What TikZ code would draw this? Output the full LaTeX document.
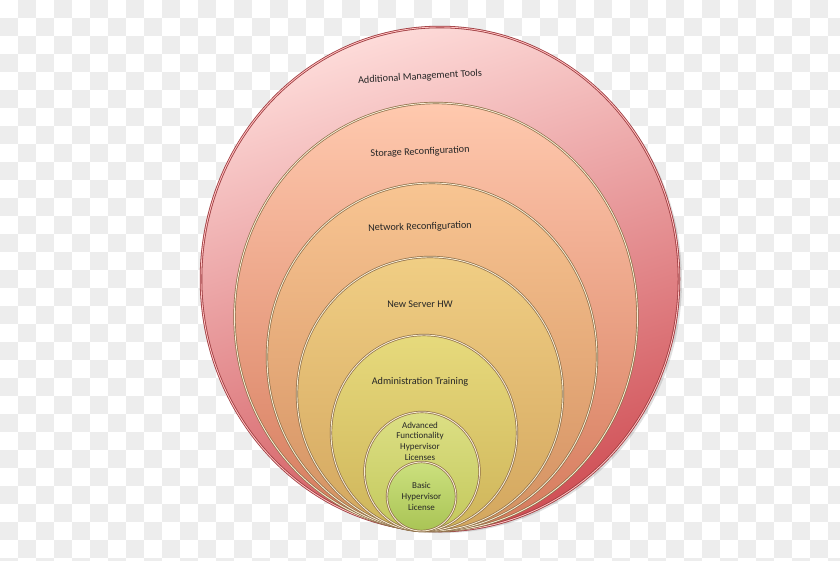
\documentclass[tikz,border=0pt]{standalone}
\usepackage{fontspec}
\setmainfont{Carlito}
\usepackage{xcolor}
\usepackage{tikz}
\usetikzlibrary{positioning,shapes.geometric,shadows}
\definecolor{chk}{HTML}{EDEDED}
\definecolor{rimred}{HTML}{9C3A3E}
\definecolor{rimtan}{HTML}{8E6E48}
\definecolor{rimlite}{HTML}{F6EBD2}
\definecolor{amtA}{HTML}{FDDAD8}\definecolor{amtB}{HTML}{F08888}\definecolor{amtC}{HTML}{D05056}
\definecolor{stoA}{HTML}{FFC9AE}\definecolor{stoB}{HTML}{F2A583}\definecolor{stoC}{HTML}{D57A5C}
\definecolor{netA}{HTML}{F8C592}\definecolor{netB}{HTML}{EBAE78}\definecolor{netC}{HTML}{D39061}
\definecolor{srvA}{HTML}{F0CE84}\definecolor{srvB}{HTML}{E4BE72}\definecolor{srvC}{HTML}{D3A65E}
\definecolor{admA}{HTML}{E6DA7C}\definecolor{admB}{HTML}{DCCB6C}\definecolor{admC}{HTML}{CFB45A}
\definecolor{advA}{HTML}{DCDF84}\definecolor{advB}{HTML}{D0D66E}\definecolor{advC}{HTML}{C3C85C}
\definecolor{basA}{HTML}{CCE07E}\definecolor{basB}{HTML}{BED66A}\definecolor{basC}{HTML}{A9C455}
\tikzset{
  ring/.style={ellipse,inner sep=0pt,outer sep=0pt,shading angle=30,
    draw=rimtan,double=rimlite,line width=.7pt,double distance=.9pt},
  lbl/.style={align=center,inner sep=0pt,text=black!85,
    font=\fontsize{10.2}{12}\selectfont},
  sml/.style={align=center,inner sep=0pt,text=black!85,
    font=\fontsize{9}{10.7}\selectfont},
}

\begin{document}
\begin{tikzpicture}[x=1pt,y=-1pt]
  \useasboundingbox (0,0) rectangle (840,560);
  % checker background
  \begin{scope}
    \clip (0,0) rectangle (840,560);
    \foreach \i in {0,...,23}
      \foreach \j in {0,...,15} {
        \fill[chk] (\i*36+18,\j*36) rectangle +(18,18);
        \fill[chk] (\i*36,\j*36+18) rectangle +(18,18);
      }
  \end{scope}
  % rings, outside in
  \node[ring,draw=rimred,double=red!25,line width=.8pt,minimum width=478pt,minimum height=504pt,
    top color=amtA,middle color=amtB,bottom color=amtC,shading angle=18,
    drop shadow={shadow xshift=3pt,shadow yshift=-2pt,opacity=.25}] (e1) at (440,279) {};
  \node[ring,minimum width=403pt,minimum height=428pt,
    top color=stoA,middle color=stoB,bottom color=stoC] (e2) at (436,317) {};
  \node[ring,minimum width=330pt,minimum height=348pt,
    top color=netA,middle color=netB,bottom color=netC] (e3) at (432,357) {};
  \node[ring,minimum width=266pt,minimum height=274pt,
    top color=srvA,middle color=srvB,bottom color=srvC] (e4) at (430,394) {};
  \node[ring,minimum width=186pt,minimum height=196pt,
    top color=admA,middle color=admB,bottom color=admC] (e5) at (424,433) {};
  \node[ring,minimum width=115pt,minimum height=119pt,
    top color=advA,middle color=advB,bottom color=advC] (e6) at (422,471.5) {};
  \node[ring,minimum width=69pt,minimum height=69pt,
    top color=basA,middle color=basB,bottom color=basC] (e7) at (421.5,496.5) {};
  % labels
  \node[lbl,rotate=3.5] (tamt) at ([xshift=-20pt,yshift=-50pt]e1.north) {Additional Management Tools};
  \node[lbl,rotate=2.5] (tsto) at ([xshift=-16pt,yshift=-49pt]e2.north) {Storage Reconfiguration};
  \node[lbl,rotate=1.5] (tnet) at ([xshift=-12pt,yshift=-44pt]e3.north) {Network Reconfiguration};
  \node[lbl] (tsrv) at ([xshift=-10pt,yshift=-47pt]e4.north) {New Server HW};
  \node[lbl] (tadm) at ([xshift=-4pt,yshift=-47pt]e5.north) {Administration Training};
  \node[sml] (tadv) at ([xshift=-2pt,yshift=-29pt]e6.north) {Advanced\\Functionality\\Hypervisor\\Licenses};
  \node[sml] (tbas) at (e7.center) {Basic\\Hypervisor\\License};
\end{tikzpicture}
\end{document}
